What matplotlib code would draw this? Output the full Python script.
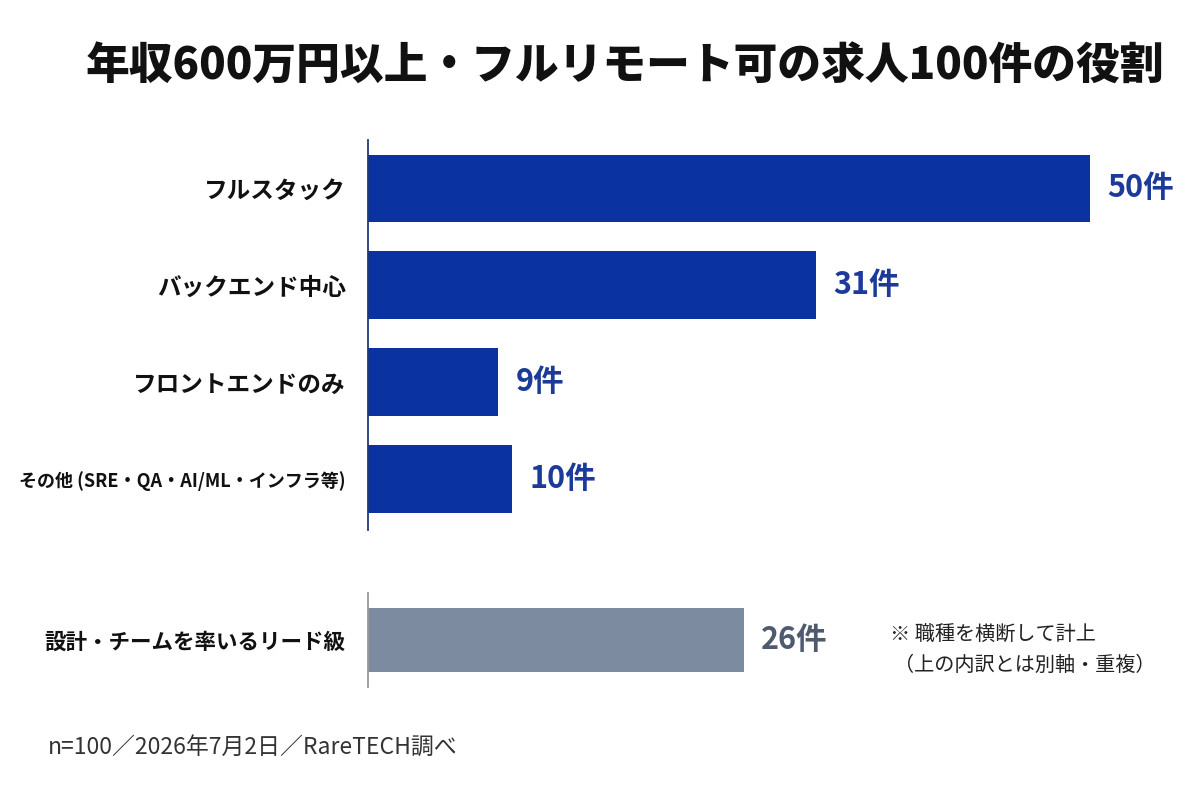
import matplotlib
matplotlib.use("Agg")
from matplotlib import pyplot as plt

plt.rcParams['font.family'] = ['Noto Sans CJK JP', 'DejaVu Sans']

title = "年収600万円以上・フルリモート可の求人100件の役割"
roles = ["フルスタック", "バックエンド中心", "フロントエンドのみ", "その他 (SRE・QA・AI/ML・インフラ等)"]
counts = [50, 31, 9, 10]
lead_label = "設計・チームを率いるリード級"
lead_count = 26
note_lines = ["※ 職種を横断して計上", "（上の内訳とは別軸・重複）"]
source = "n=100／2026年7月2日／RareTECH調べ"

blue = "#0A32A0"
blue_text = "#1B3A9A"
gray = "#7D8BA1"
gray_text = "#4F5A70"
xmax = 57.6

fig = plt.figure(figsize=(12, 8), dpi=100)
fig.patch.set_facecolor("white")

def style(ax, spine_color):
    for s in ["top", "right", "bottom"]:
        ax.spines[s].set_visible(False)
    ax.spines["left"].set_color(spine_color)
    ax.spines["left"].set_linewidth(1.3)
    ax.set_xticks([])
    ax.tick_params(axis="y", length=0, pad=16)
    ax.set_xlim(0, xmax)

# main breakdown
ax1 = fig.add_axes([368/1200, 1-530/800, 1-368/1200, 390/800])
ypos = list(range(len(roles)))
ax1.barh(ypos, counts, height=0.7, color=blue)
ax1.set_ylim(3.53, -0.5)
ax1.set_yticks(ypos)
ax1.set_yticklabels(roles, fontsize=17, fontweight="bold", color="#111111")
style(ax1, "#1F3A7A")
for y, c in zip(ypos, counts):
    ax1.text(c + 1.2, y, f"{c}件", va="center", ha="left",
             fontsize=22, fontweight="bold", color=blue_text)
ax1.get_yticklabels()[3].set_fontsize(13)

# lead role (separate axis)
ax2 = fig.add_axes([368/1200, 1-687/800, 1-368/1200, 94/800])
ax2.barh([0], [lead_count], height=0.67, color=gray)
ax2.set_ylim(0.485, -0.485)
ax2.set_yticks([0])
ax2.set_yticklabels([lead_label], fontsize=15.5, fontweight="bold", color="#111111")
style(ax2, "#999999")
ax2.text(lead_count + 1.2, 0, f"{lead_count}件", va="center", ha="left",
         fontsize=22, fontweight="bold", color=gray_text)

fig.text(890/1200, 1-635/800, note_lines[0], fontsize=14.5, color="#222222",
         va="center", ha="left")
fig.text(894/1200, 1-665/800, note_lines[1], fontsize=14.5, color="#222222",
         va="center", ha="left")

fig.text(625/1200, 1-66/800, title, fontsize=31.5, fontweight="heavy",
         color="#111111", ha="center", va="center")
fig.text(48/1200, 1-747/800, source, fontsize=16.5, color="#333333",
         ha="left", va="center")

fig.savefig("out.png", dpi=100, facecolor="white")
